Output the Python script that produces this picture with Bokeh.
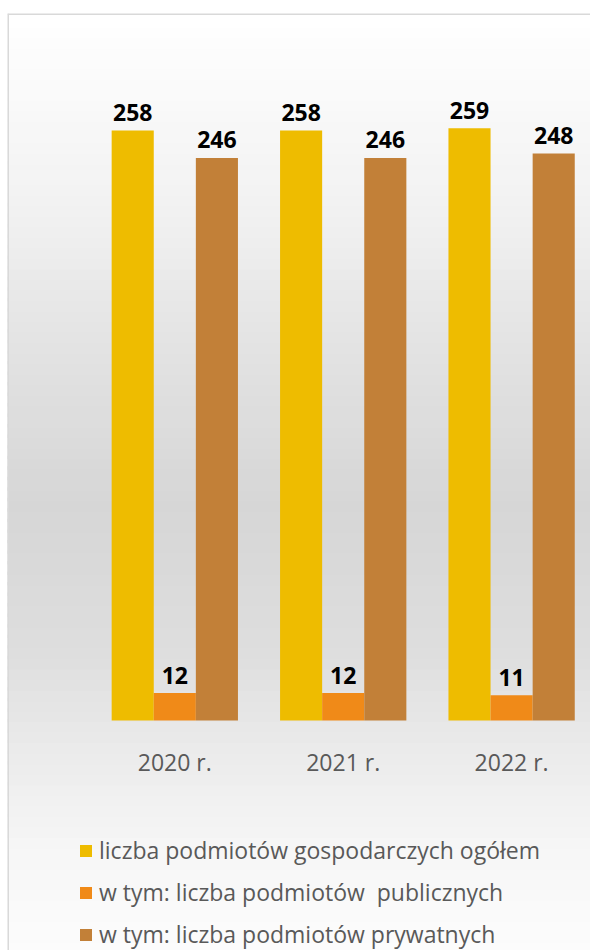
import numpy as np
from bokeh.plotting import figure
from bokeh.models import ColumnDataSource, Range1d, Span, Legend, LegendItem
from bokeh.transform import dodge
from bokeh.core.properties import value
from bokeh.embed import file_html
from bokeh.resources import INLINE

# ---- data ----
years = ["2020 r.", "2021 r.", "2022 r."]
total = [258, 258, 259]
public = [12, 12, 11]
private = [246, 246, 248]
series_names = [
    "liczba podmiotów gospodarczych ogółem",
    "w tym: liczba podmiotów  publicznych",
    "w tym: liczba podmiotów prywatnych",
]

xs = list(range(len(years)))
src = ColumnDataSource(dict(
    x=xs, year=years,
    total=total, public=public, private=private,
    total_lbl=[str(v) for v in total],
    public_lbl=[str(v) for v in public],
    private_lbl=[str(v) for v in private],
    zero=[0] * len(years),
))

X0, X1 = -0.9935, 2.4685
Y0, Y1 = -100.58, 309.17

p = figure(width=590, height=950, output_backend="svg", toolbar_location=None,
           x_range=Range1d(X0, X1), y_range=Range1d(Y0, Y1),
           x_axis_type=None, y_axis_type=None,
           min_border_left=7, min_border_right=0, min_border_top=13, min_border_bottom=0)
p.grid.visible = False
p.outline_line_color = None
p.background_fill_color = "white"
p.border_fill_color = "white"

# background gradient (decoration only)
stops_y = np.array([Y0, -58.0, -15.0, 30.0, 96.0, 162.0, 227.0, Y1])
stops_g = np.array([252, 247, 236, 222, 214, 226, 242, 255])
edges = np.linspace(Y0, Y1, 90)
mids = (edges[:-1] + edges[1:]) / 2
gs = np.interp(mids, stops_y, stops_g).round().astype(int)
bg_colors = ["#%02x%02x%02x" % (g, g, g) for g in gs]
p.quad(left=X0 - 0.1, right=X1 + 0.1, bottom=edges[:-1] - 1.5, top=edges[1:],
       fill_color=bg_colors, line_color=None, level="underlay")

# chart border (left & top)
p.add_layout(Span(location=X0, dimension="height", line_color="#d9d9d9", line_width=3))
p.add_layout(Span(location=Y1, dimension="width", line_color="#d9d9d9", line_width=3))

bw = 0.25
colors = ["#EEBC00", "#F08A18", "#C28038"]
r1 = p.vbar(x=dodge("x", -bw, range=p.x_range), top="total", width=bw, source=src,
            fill_color=colors[0], line_color=None)
r2 = p.vbar(x=dodge("x", 0, range=p.x_range), top="public", width=bw, source=src,
            fill_color=colors[1], line_color=None)
r3 = p.vbar(x=dodge("x", bw, range=p.x_range), top="private", width=bw, source=src,
            fill_color=colors[2], line_color=None)

lbl_kw = dict(text_align="center", text_baseline="alphabetic", y_offset=-18,
              text_font=value("Open Sans"), text_font_style="bold",
              text_font_size="23px", text_color="black")
p.text(x=dodge("x", -bw, range=p.x_range), y="total", text="total_lbl", source=src, **lbl_kw)
p.text(x=dodge("x", 0, range=p.x_range), y="public", text="public_lbl", source=src, **lbl_kw)
p.text(x=dodge("x", bw, range=p.x_range), y="private", text="private_lbl", source=src, **lbl_kw)

# category labels
p.text(x="x", y="zero", text="year", source=src, y_offset=42,
       text_align="center", text_baseline="alphabetic",
       text_font=value("Open Sans"), text_font_size="23px", text_color="#595959")

legend = Legend(items=[LegendItem(label=series_names[0], renderers=[r1]),
                       LegendItem(label=series_names[1], renderers=[r2]),
                       LegendItem(label=series_names[2], renderers=[r3])],
                location=(71, 0), orientation="vertical",
                glyph_width=15, glyph_height=15, label_standoff=6,
                label_height=26, spacing=10, padding=0, margin=0,
                label_text_font="Open Sans", label_text_font_size="23px",
                label_text_color="#595959",
                background_fill_alpha=0, border_line_color=None)
p.add_layout(legend)

open("out.html", "w").write(file_html(p, INLINE))
